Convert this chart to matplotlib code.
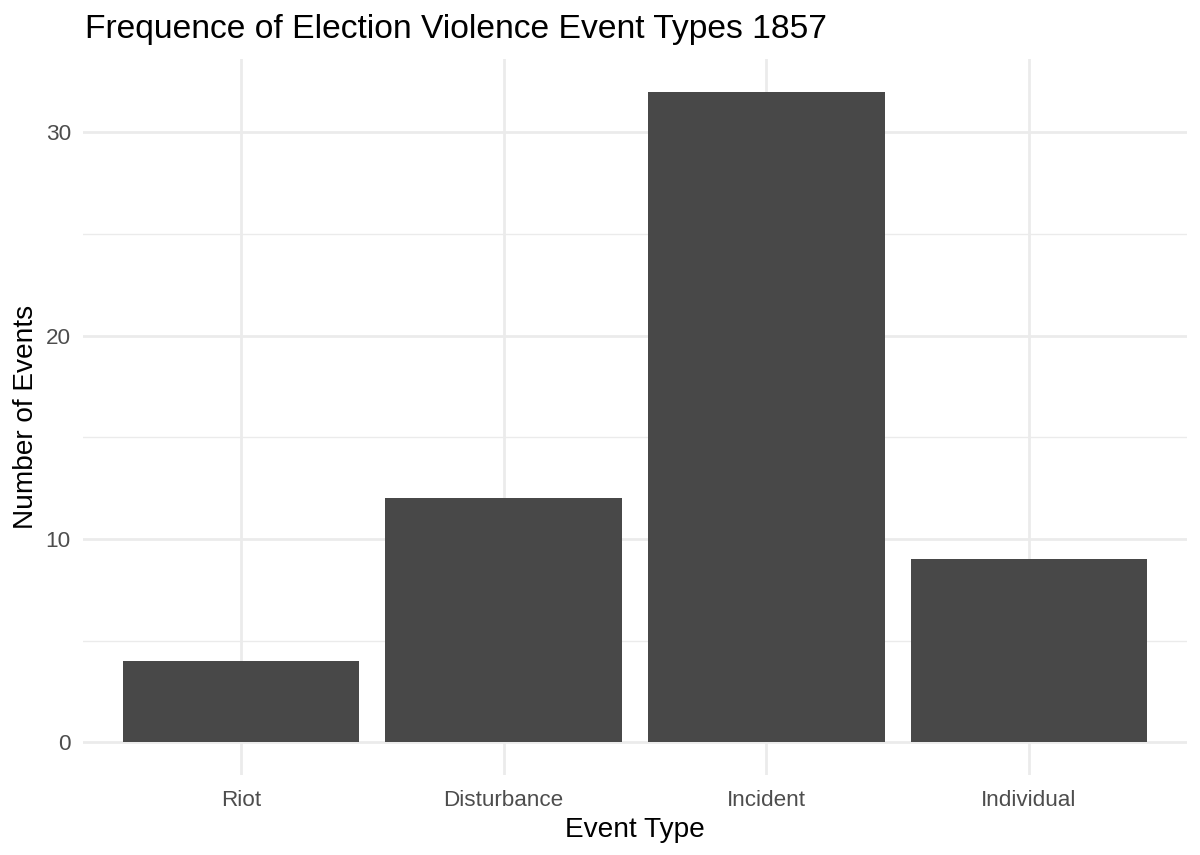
import matplotlib
matplotlib.use("Agg")
import matplotlib.pyplot as plt
import numpy as np

#-- data
event_types = ['Riot', 'Disturbance', 'Incident', 'Individual']
n_events = [4, 12, 32, 9]

#-- style (ggplot theme_minimal look)
plt.rcParams['font.family'] = ['Liberation Sans', 'DejaVu Sans']

fig = plt.figure(figsize=(12, 8.55), dpi=100)
ax = fig.add_axes([0.0695, 0.0936, 0.9193, 0.8374])

x = np.arange(1, len(event_types) + 1)
ax.bar(x, n_events, width=0.9, color='#484848', zorder=3)

ax.set_xlim(0.4, len(event_types) + 0.6)
ymax = max(n_events)
ax.set_ylim(-0.05 * ymax, 1.05 * ymax)

ax.set_xticks(x)
ax.set_xticklabels(event_types)
ax.set_yticks([0, 10, 20, 30])
ax.set_yticks([5, 15, 25], minor=True)

ax.grid(True, which='major', color='#EBEBEB', linewidth=2.0, zorder=0)
ax.grid(True, which='minor', axis='y', color='#EBEBEB', linewidth=1.0, zorder=0)
ax.set_axisbelow(True)
for s in ax.spines.values():
    s.set_visible(False)
ax.tick_params(axis='both', which='both', length=0, labelsize=16.2, labelcolor='#4D4D4D')
ax.tick_params(axis='x', pad=11)
ax.tick_params(axis='y', pad=9)

ax.set_xlabel('Event Type', fontsize=20.2, labelpad=4)
ax.set_ylabel('Number of Events', fontsize=20.2, labelpad=5)
fig.text(0.0705, 0.966, 'Frequence of Election Violence Event Types 1857',
         fontsize=24.2, ha='left', va='center')

fig.savefig('out.png', dpi=100)
